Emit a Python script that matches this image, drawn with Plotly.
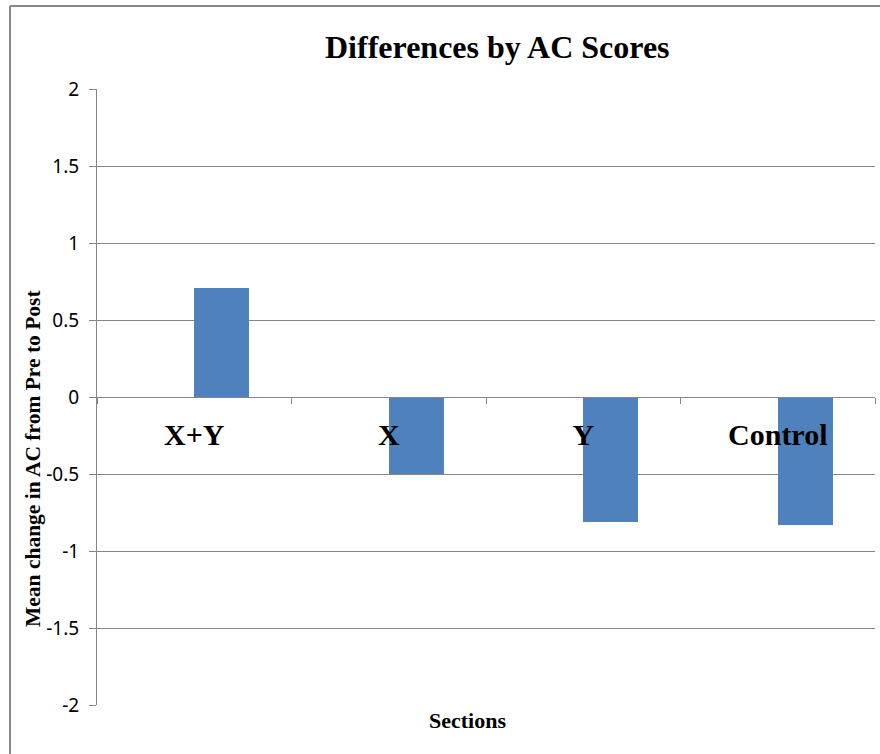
import plotly.graph_objects as go

categories = ["X+Y", "X", "Y", "Control"]
values = [0.71, -0.50, -0.81, -0.83]
y_tick_vals = [2, 1.5, 1, 0.5, 0, -0.5, -1, -1.5, -2]
y_tick_text = ["2", "1.5", "1", "0.5", "0", "-0.5", "-1", "-1.5", "-2"]

title_text = "Differences by AC Scores"
x_title = "Sections"
y_title = "Mean change in AC from Pre to Post"

GRID = "#868686"
SERIF = "Liberation Serif"

fig = go.Figure()
fig.add_trace(go.Bar(
    x=categories, y=values,
    offset=0, width=0.283,
    marker=dict(color="#4F81BD", line=dict(width=0)),
    showlegend=False,
))

W, H = 880, 754
L, R, T, B = 97, 5, 89, 49
pw = W - L - R
ph = H - T - B

def px(x):
    return (x - L) / pw

def py(y):
    return (H - B - y) / ph

fig.update_layout(
    width=W, height=H,
    margin=dict(l=L, r=R, t=T, b=B),
    paper_bgcolor="white", plot_bgcolor="white",
    bargap=0,
    xaxis=dict(
        type="category",
        categoryorder="array", categoryarray=categories,
        anchor="free", position=0.5,
        showline=True, linecolor=GRID, linewidth=1,
        ticks="outside", ticklen=6, tickcolor=GRID, tickson="boundaries",
        showgrid=False, zeroline=False,
        tickfont=dict(family=SERIF, size=30, color="black", weight="bold"),
        ticklabelstandoff=11,
        range=[-0.5, 3.5],
    ),
    yaxis=dict(
        range=[-2, 2],
        tickvals=y_tick_vals, ticktext=y_tick_text,
        showline=True, linecolor=GRID, linewidth=1,
        ticks="outside", ticklen=7, tickcolor=GRID,
        showgrid=True, gridcolor=GRID, gridwidth=1,
        zeroline=False,
        tickfont=dict(family="Noto Sans", size=19, color="black"),
        ticklabelstandoff=6,
    ),
    annotations=[
        dict(text=title_text, xref="paper", yref="paper", x=px(497), y=py(47),
             xanchor="center", yanchor="middle", showarrow=False,
             font=dict(family=SERIF, size=32, color="black", weight="bold")),
        dict(text=x_title, xref="paper", yref="paper", x=px(467), y=py(720),
             xanchor="center", yanchor="middle", showarrow=False,
             font=dict(family=SERIF, size=22, color="black", weight="bold")),
        dict(text=y_title, xref="paper", yref="paper", x=px(33), y=py(459),
             xanchor="center", yanchor="middle", showarrow=False, textangle=-90,
             font=dict(family=SERIF, size=21.5, color="black", weight="bold")),
    ],
    shapes=[
        dict(type="line", xref="paper", yref="paper",
             x0=px(10), x1=px(10), y0=py(6), y1=py(760),
             line=dict(color="#888888", width=2)),
        dict(type="line", xref="paper", yref="paper",
             x0=px(10), x1=px(890), y0=py(6), y1=py(6),
             line=dict(color="#888888", width=2)),
    ],
)

fig.write_html(
    "out.html",
    config={"displayModeBar": False},
    post_script="document.body.style.margin='0px';document.body.style.overflow='hidden';document.documentElement.style.overflow='hidden';",
)
